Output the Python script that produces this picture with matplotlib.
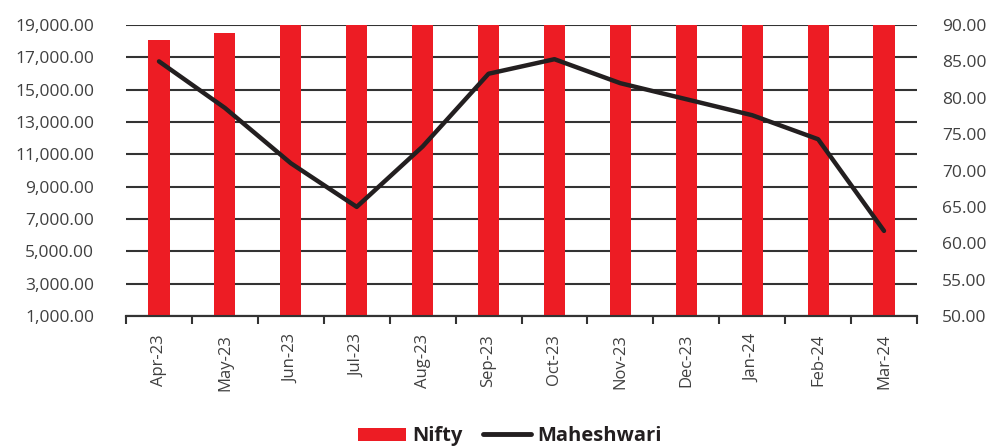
import numpy as np
import matplotlib.pyplot as plt
from matplotlib.patches import Patch
from matplotlib.lines import Line2D

plt.rcParams['font.family'] = ['Open Sans', 'DejaVu Sans']

months = ['Apr-23', 'May-23', 'Jun-23', 'Jul-23', 'Aug-23', 'Sep-23',
          'Oct-23', 'Nov-23', 'Dec-23', 'Jan-24', 'Feb-24', 'Mar-24']
nifty = [18065, 18534, 19189, 19754, 19254, 19638,
         19080, 20133, 21731, 21726, 21983, 22327]
maheshwari = [85.0, 78.6, 71.0, 65.0, 73.3, 83.3,
              85.3, 82.0, 79.8, 77.6, 74.3, 61.7]

red = '#ed1c24'
dark = '#231f20'
grey = '#404040'

fig = plt.figure(figsize=(9.94, 4.48), dpi=100)
ax = fig.add_axes([0.1268, 0.2946, 0.7957, 0.6496])
ax2 = ax.twinx()

x = np.arange(len(months))
ax.bar(x, nifty, width=0.32, color=red, zorder=3)
ax.set_ylim(1000, 19000)
ax.set_yticks(np.arange(1000, 19001, 2000))
ax.set_yticklabels([f'{v:,.2f}' for v in np.arange(1000, 19001, 2000)])
ax.set_xlim(-0.5, len(months) - 0.5)
ax.grid(axis='y', color='#333333', linewidth=1.5, zorder=0)
ax.set_axisbelow(True)

ax2.plot(x, maheshwari, color=dark, linewidth=3.2, solid_capstyle='round',
         solid_joinstyle='round', zorder=4)
ax2.set_ylim(50, 90)
ax2.set_yticks(np.arange(50, 91, 5))
ax2.set_yticklabels([f'{v:.2f}' for v in np.arange(50, 91, 5)])

for a in (ax, ax2):
    for s in ('top', 'left', 'right'):
        a.spines[s].set_visible(False)
    a.spines['bottom'].set_color('#333333')
    a.spines['bottom'].set_linewidth(1.5)
    a.tick_params(axis='y', length=0, labelsize=12.5, labelcolor=grey)

ax.tick_params(axis='y', pad=23)
ax2.tick_params(axis='y', pad=18)

ax.set_xticks(x)
ax.set_xticklabels(months, rotation=90, fontsize=12, color=grey)
ax.set_xticks(np.arange(-0.5, len(months), 1), minor=True)
ax.tick_params(axis='x', which='major', length=0, pad=13)
ax.tick_params(axis='x', which='minor', length=6, width=1.5, color='#333333')

handles = [Patch(facecolor=red, edgecolor='none'),
           Line2D([0], [0], color=dark, linewidth=3.5, solid_capstyle='round')]
fig.legend(handles, ['Nifty', 'Maheshwari'], loc='center',
           bbox_to_anchor=(0.513, 0.026), ncol=2, frameon=False,
           prop={'weight': 'bold', 'size': 14.5}, handlelength=2.4,
           handleheight=0.65, columnspacing=1.0, handletextpad=0.3,
           labelcolor=dark)

fig.savefig('out.png', dpi=100)
